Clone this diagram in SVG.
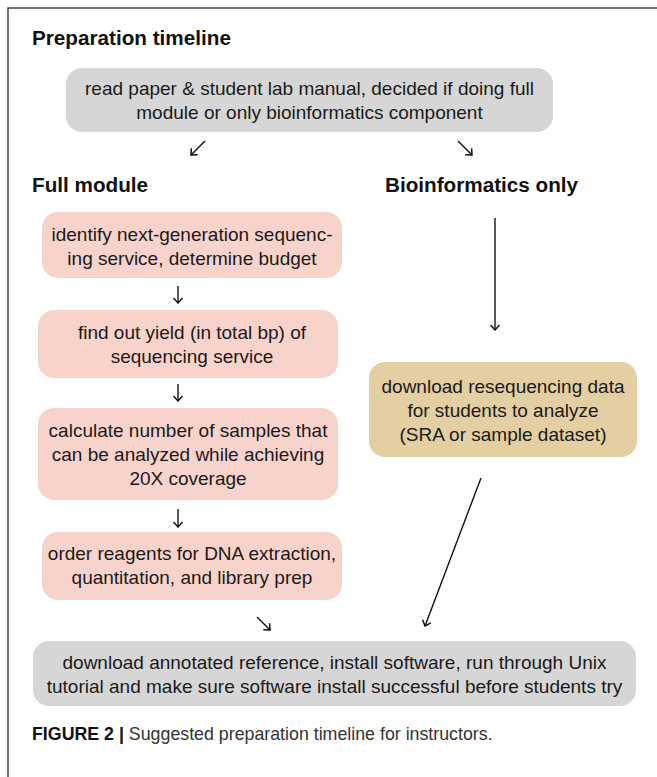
<svg xmlns="http://www.w3.org/2000/svg" width="657" height="777" viewBox="0 0 657 777">
  <defs>
    <marker id="head" viewBox="0 0 10 10" refX="9" refY="5" markerWidth="10" markerHeight="10" markerUnits="userSpaceOnUse" orient="auto">
      <path d="M4,0.5 L9,5 L4,9.5" fill="none" stroke="#111" stroke-width="1.5"/>
    </marker>
    <style>
      .frame { fill: none; stroke: #444; stroke-width: 1.5; }
      .head { font-family: "Liberation Sans", Arial, sans-serif; font-weight: bold; font-size: 20.7px; fill: #111; }
      .body { font-family: "Liberation Sans", Arial, sans-serif; font-size: 19px; fill: #1a1a1a; text-anchor: middle; }
      .gray { fill: #d6d6d6; }
      .pink { fill: #f8d3cc; }
      .tan { fill: #e3cfa1; }
      .edge { fill: none; stroke: #111; stroke-width: 1.4; marker-end: url(#head); }
      .cap { font-family: "Liberation Sans", Arial, sans-serif; font-size: 17.8px; fill: #333; }
    </style>
  </defs>

  <rect width="657" height="777" fill="#fff"/>
  <path class="frame" d="M8,777 V8 H657"/>

  <text class="head" x="32" y="45">Preparation timeline</text>
  <text class="head" x="32" y="192">Full module</text>
  <text class="head" x="385" y="192">Bioinformatics only</text>

  <g id="start">
    <rect class="gray" x="66" y="68" width="487" height="64" rx="16"/>
    <text class="body" x="309.5" y="95">read paper &amp; student lab manual, decided if doing full</text>
    <text class="body" x="309.5" y="119">module or only bioinformatics component</text>
  </g>

  <g id="service">
    <rect class="pink" x="42" y="212" width="300" height="66" rx="16"/>
    <text class="body" x="192" y="241">identify next-generation sequenc-</text>
    <text class="body" x="192" y="265">ing service, determine budget</text>
  </g>

  <g id="yield">
    <rect class="pink" x="38" y="310" width="300" height="68" rx="16"/>
    <text class="body" x="192" y="339">find out yield (in total bp) of</text>
    <text class="body" x="192" y="363">sequencing service</text>
  </g>

  <g id="samples">
    <rect class="pink" x="38" y="408" width="300" height="92" rx="16"/>
    <text class="body" x="188" y="437">calculate number of samples that</text>
    <text class="body" x="188" y="461">can be analyzed while achieving</text>
    <text class="body" x="188" y="485">20X coverage</text>
  </g>

  <g id="reagents">
    <rect class="pink" x="42" y="532" width="300" height="68" rx="16"/>
    <text class="body" x="192" y="560">order reagents for DNA extraction,</text>
    <text class="body" x="192" y="584">quantitation, and library prep</text>
  </g>

  <g id="data">
    <rect class="tan" x="369" y="362" width="268" height="95" rx="16"/>
    <text class="body" x="503" y="393">download resequencing data</text>
    <text class="body" x="503" y="417">for students to analyze</text>
    <text class="body" x="503" y="441">(SRA or sample dataset)</text>
  </g>

  <g id="setup">
    <rect class="gray" x="33" y="641" width="603" height="65" rx="16"/>
    <text class="body" x="334.5" y="669">download annotated reference, install software, run through Unix</text>
    <text class="body" x="334.5" y="693">tutorial and make sure software install successful before students try</text>
  </g>

  <g id="connectors">
    <path class="edge" d="M205,141 L191,155"/>
    <path class="edge" d="M458,141 L472,155"/>
    <path class="edge" d="M178,286 L178,303"/>
    <path class="edge" d="M178,384 L178,401"/>
    <path class="edge" d="M178,509 L178,527"/>
    <path class="edge" d="M257,617 L270,630"/>
    <path class="edge" d="M495,218 L495,330"/>
    <path class="edge" d="M481,478 L425,626"/>
  </g>

  <text class="cap" x="32" y="740"><tspan font-weight="bold" fill="#111">FIGURE 2 |</tspan> Suggested preparation timeline for instructors.</text>
</svg>
